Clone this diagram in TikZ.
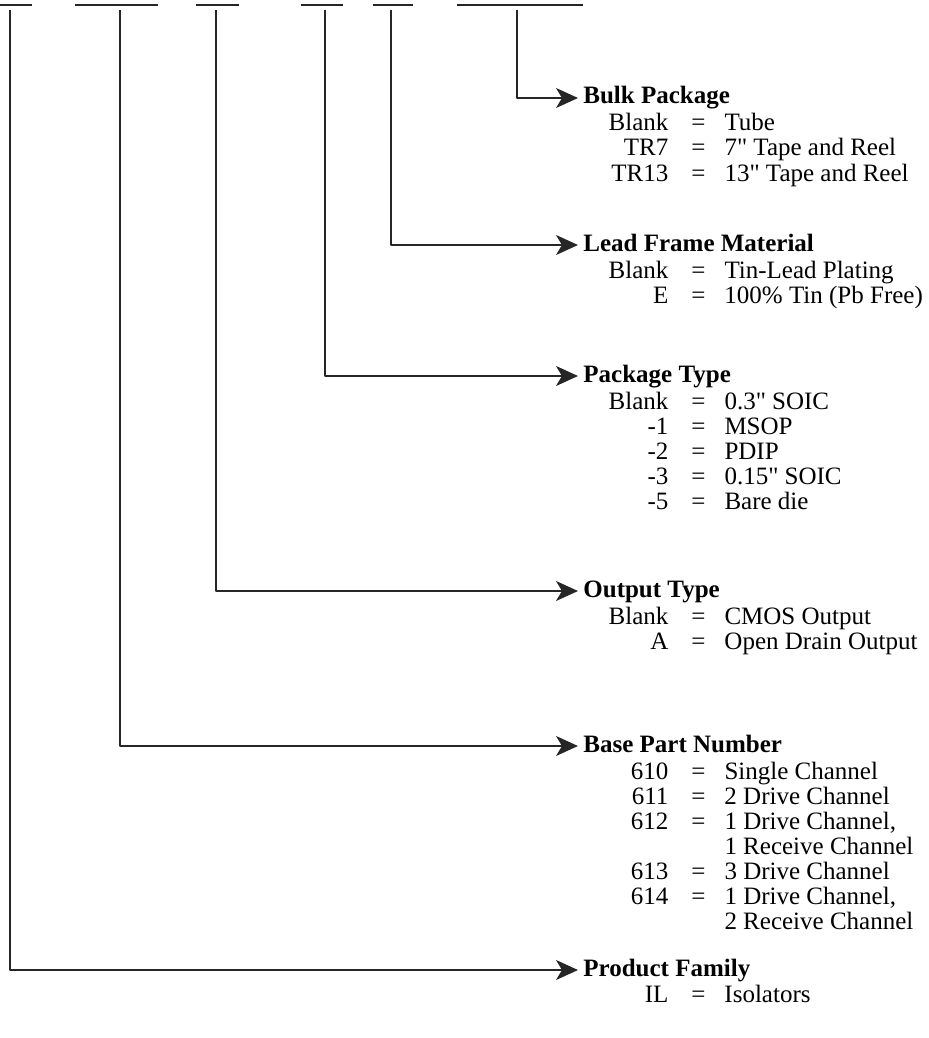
\documentclass[tikz,border=0pt]{standalone}
\usepackage{fontspec}
\setmainfont{Liberation Serif}
\usepackage{array}
\usetikzlibrary{arrows.meta,positioning}

\tikzset{
  head/.style={anchor=west,inner xsep=2.5pt,inner ysep=0pt,text height=8.5pt,text depth=2.5pt,font={\fontsize{12.5}{12.5}\selectfont\bfseries}},
  codes/.style={anchor=base west,inner sep=0pt,font={\fontsize{12.5}{12.5}\selectfont}},
  field/.style={draw=black!85,line width=0.75pt},
  lead/.style={draw=black!85,line width=0.75pt,-{Stealth[length=11pt,width=10pt,inset=3pt]}},
}
\newcommand{\codetab}[1]{\begin{tabular}[t]{@{}>{\raggedleft\arraybackslash}p{30pt}@{\hspace{11.5pt}}c@{\hspace{9.5pt}}l@{}}#1\end{tabular}}
\newcommand{\inch}{\textquotedbl}

\begin{document}
\begin{tikzpicture}[x=0.5pt,y=-0.5pt,line join=round]
  \useasboundingbox (0,0) rectangle (928,1038);

  % part number fields
  \draw[field] (0,5) -- (32,5);
  \draw[field] (75,5) -- (158,5);
  \draw[field] (196,5) -- (239,5);
  \draw[field] (301,5) -- (343,5);
  \draw[field] (373,5) -- (413,5);
  \draw[field] (457,5) -- (583,5);
  \coordinate (famTop) at (10,10);
  \coordinate (baseTop) at (120,10);
  \coordinate (outTop) at (216,10);
  \coordinate (pkgTop) at (325,10);
  \coordinate (frameTop) at (391,10);
  \coordinate (bulkTop) at (517,10);

  % headings
  \node[head] (bulk) at (578,98) {Bulk Package};
  \node[head] (frame) at (578,245) {Lead Frame Material};
  \node[head] (pkg) at (578,376) {Package Type};
  \node[head] (out) at (578,591) {Output Type};
  \node[head] (base) at (578,746) {Base Part Number};
  \node[head] (fam) at (578,970) {Product Family};

  % code lists
  \node[codes] (bulkCodes) at ([shift={(30,33)}]bulk.west) {\codetab{%
    Blank & = & Tube\\
    TR7 & = & 7\inch{} Tape and Reel\\
    TR13 & = & 13\inch{} Tape and Reel}};
  \node[codes] (frameCodes) at ([shift={(30,33)}]frame.west) {\codetab{%
    Blank & = & Tin-Lead Plating\\
    E & = & 100\% Tin (Pb Free)}};
  \node[codes] (pkgCodes) at ([shift={(30,33)}]pkg.west) {\codetab{%
    Blank & = & 0.3\inch{} SOIC\\
    -1 & = & MSOP\\
    -2 & = & PDIP\\
    -3 & = & 0.15\inch{} SOIC\\
    -5 & = & Bare die}};
  \node[codes] (outCodes) at ([shift={(30,33)}]out.west) {\codetab{%
    Blank & = & CMOS Output\\
    A & = & Open Drain Output}};
  \node[codes] (baseCodes) at ([shift={(30,33)}]base.west) {\codetab{%
    610 & = & Single Channel\\
    611 & = & 2 Drive Channel\\
    612 & = & 1 Drive Channel,\\
    & & 1 Receive Channel\\
    613 & = & 3 Drive Channel\\
    614 & = & 1 Drive Channel,\\
    & & 2 Receive Channel}};
  \node[codes] (famCodes) at ([shift={(30,32)}]fam.west) {\codetab{%
    IL\hspace{9pt} & = & Isolators}};

  % leaders
  \draw[lead] (bulkTop) |- (bulk.west);
  \draw[lead] (frameTop) |- (frame.west);
  \draw[lead] (pkgTop) |- (pkg.west);
  \draw[lead] (outTop) |- (out.west);
  \draw[lead] (baseTop) |- (base.west);
  \draw[lead] (famTop) |- (fam.west);
\end{tikzpicture}
\end{document}
